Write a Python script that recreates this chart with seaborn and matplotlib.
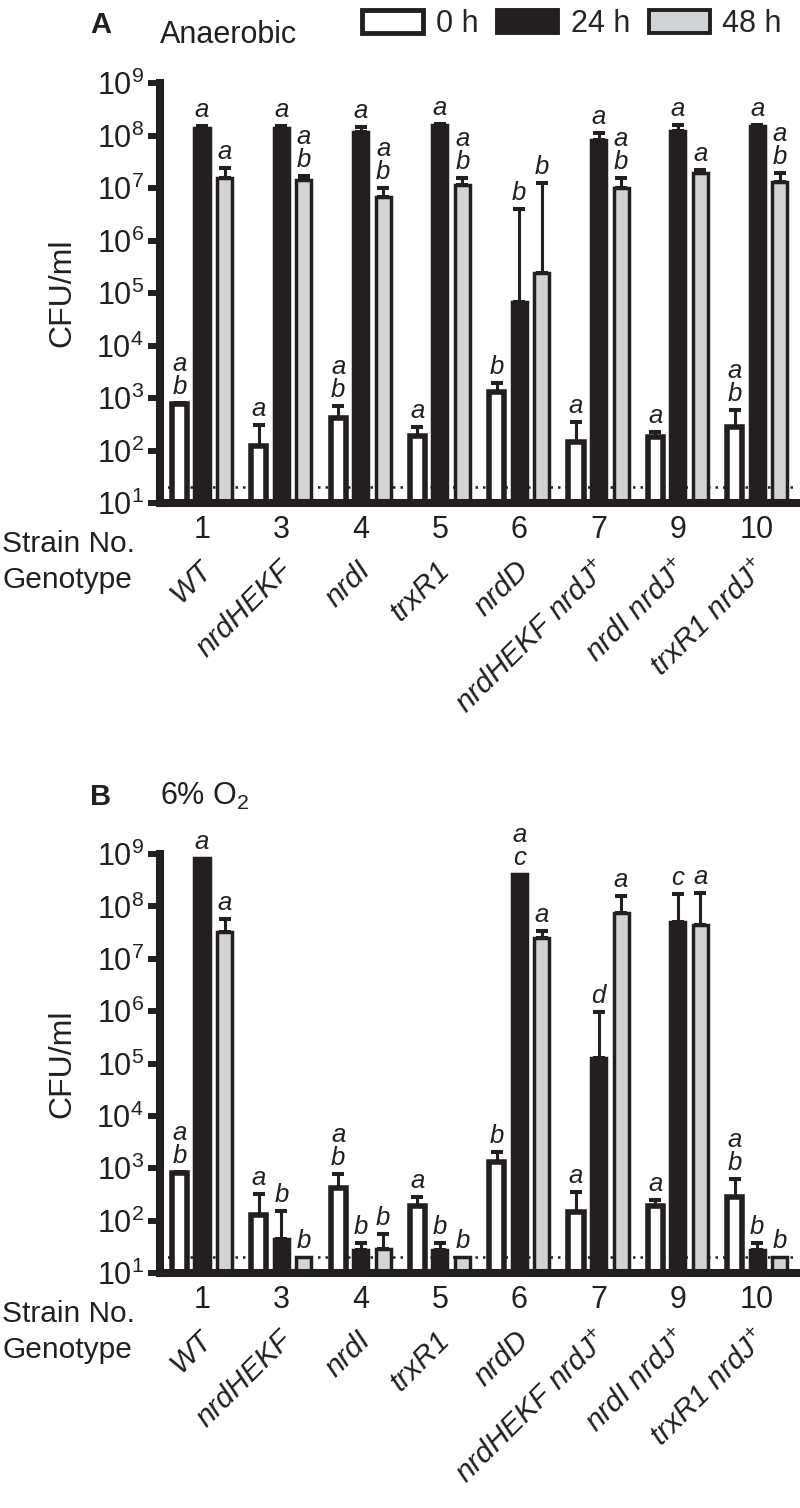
import pandas as pd
import seaborn as sns
import matplotlib.pyplot as plt
from matplotlib.patches import Patch
from matplotlib.ticker import LogLocator, LogFormatterMathtext, NullLocator

strains = ['1', '3', '4', '5', '6', '7', '9', '10']
genotypes = ['WT', 'nrdHEKF', 'nrdI', 'trxR1', 'nrdD',
             'nrdHEKF nrdJ$^{+}$', 'nrdI nrdJ$^{+}$', 'trxR1 nrdJ$^{+}$']
times = ['0 h', '24 h', '48 h']

# panel A, anaerobic (mean and top of error bar)
a_0h = [770, 122, 420, 190, 1290, 146, 180, 280]
a_0h_up = [800, 306, 700, 280, 1940, 350, 225, 590]
a_24h = [1.4e8, 1.4e8, 1.17e8, 1.58e8, 6.8e4, 8.1e7, 1.22e8, 1.5e8]
a_24h_up = [1.5e8, 1.5e8, 1.45e8, 1.65e8, 4.0e6, 1.12e8, 1.58e8, 1.58e8]
a_48h = [1.55e7, 1.4e7, 6.8e6, 1.15e7, 2.4e5, 1.0e7, 1.94e7, 1.3e7]
a_48h_up = [2.4e7, 1.7e7, 1.0e7, 1.55e7, 1.26e7, 1.55e7, 2.2e7, 1.94e7]

# panel B, 6% O2
b_0h = [810, 128, 420, 190, 1320, 146, 190, 280]
b_0h_up = [840, 323, 770, 280, 2040, 355, 245, 620]
b_24h = [8.3e8, 45, 27.5, 27, 4.1e8, 1.3e5, 5.0e7, 27]
b_24h_up = [8.3e8, 150, 37, 37, 4.1e8, 9.5e5, 1.7e8, 37]
b_48h = [3.2e7, 20, 29, 20, 2.45e7, 7.4e7, 4.4e7, 20]
b_48h_up = [5.7e7, 20, 55, 20, 3.4e7, 1.58e8, 1.8e8, 20]

# significance letters
a_let_0h = ['a\nb', 'a', 'a\nb', 'a', 'b', 'a', 'a', 'a\nb']
a_let_24h = ['a', 'a', 'a', 'a', 'b', 'a', 'a', 'a']
a_let_48h = ['a', 'a\nb', 'a\nb', 'a\nb', 'b', 'a\nb', 'a', 'a\nb']
b_let_0h = ['a\nb', 'a', 'a\nb', 'a', 'b', 'a', 'a', 'a\nb']
b_let_24h = ['a', 'b', 'b', 'b', 'a\nc', 'd', 'c', 'b']
b_let_48h = ['a', 'b', 'b', 'b', 'a', 'a', 'a', 'b']

detection_limit = 20

INK = '#231f20'
palette = {'0 h': 'white', '24 h': INK, '48 h': '#d1d3d4'}

sns.set_style('ticks')
plt.rcParams['font.family'] = ['Liberation Sans', 'DejaVu Sans']
plt.rcParams['mathtext.fontset'] = 'custom'
plt.rcParams['mathtext.rm'] = 'Liberation Sans'
plt.rcParams['mathtext.it'] = 'Liberation Sans:italic'


def make_df(v0, v24, v48):
    rows = []
    for vals, t in zip([v0, v24, v48], times):
        for s, v in zip(strains, vals):
            rows.append({'strain': s, 'time': t, 'cfu': v})
    return pd.DataFrame(rows)


def draw_panel(ax, means, ups, letters):
    df = make_df(*means)
    sns.barplot(data=df, x='strain', y='cfu', hue='time', order=strains,
                hue_order=times, palette=palette, edgecolor=INK, linewidth=2.5,
                width=0.852, gap=0.33, errorbar=None, legend=False, ax=ax)
    ax.set_yscale('log')

    bars = sorted(ax.patches, key=lambda p: p.get_x())
    for k, p in enumerate(bars):
        g, h = k // 3, k % 3
        p.set_zorder(2)
        if h == 0:
            p.set_linewidth(4.0)
        x = p.get_x() + p.get_width() / 2
        top = means[h][g]
        up = ups[h][g]
        if up > top:
            ax.errorbar(x, top, yerr=[[0], [up - top]], fmt='none', ecolor=INK,
                        elinewidth=2.2, capsize=4.3, capthick=2.9, zorder=3)
        ax.annotate(letters[h][g], xy=(x, max(top, up)), xytext=(0, 3),
                    textcoords='offset points', ha='center', va='bottom',
                    fontsize=18.5, style='italic', linespacing=0.95, color=INK)

    ax.axhline(detection_limit, ls=(0, (1, 2)), color=INK, lw=1.8, zorder=1)

    ax.set_ylim(10, 1e9)
    ax.set_xlim(-0.53, 7.5)
    ax.yaxis.set_major_locator(LogLocator(base=10, numticks=20))
    ax.yaxis.set_major_formatter(LogFormatterMathtext())
    ax.yaxis.set_minor_locator(NullLocator())
    ax.tick_params(axis='y', labelsize=22, length=8.6, width=4.3, pad=3,
                   color=INK, labelcolor=INK)
    ax.tick_params(axis='x', labelsize=22, length=0, pad=9, labelcolor=INK)
    for side in ['top', 'right']:
        ax.spines[side].set_visible(False)
    for side in ['left', 'bottom']:
        ax.spines[side].set_linewidth(5.8)
        ax.spines[side].set_color(INK)
        ax.spines[side].set_zorder(4)
    ax.set_xlabel('')
    ax.set_ylabel('CFU/ml', fontsize=23, color=INK)
    ax.yaxis.set_label_coords(-0.13, 0.5)

    for i, gname in enumerate(genotypes):
        ax.annotate(gname, xy=(i, 0), xycoords=('data', 'axes fraction'),
                    xytext=(4.3, -45), textcoords='offset points',
                    rotation=45, rotation_mode='anchor', ha='right', va='center',
                    fontsize=21.5, style='italic', color=INK)


fig = plt.figure(figsize=(8, 15.08), dpi=100)
H = 1508
axA = fig.add_axes([0.2, 1 - 503 / H, 0.796, 420 / H])
axB = fig.add_axes([0.2, 1 - 1273 / H, 0.796, 419 / H])

draw_panel(axA, [a_0h, a_24h, a_48h], [a_0h_up, a_24h_up, a_48h_up],
           [a_let_0h, a_let_24h, a_let_48h])
draw_panel(axB, [b_0h, b_24h, b_48h], [b_0h_up, b_24h_up, b_48h_up],
           [b_let_0h, b_let_24h, b_let_48h])

for y_axis in [503, 1273]:
    fig.text(2 / 800, 1 - (y_axis + 49) / H, 'Strain No.', fontsize=21.5,
             va='baseline', ha='left', color=INK)
    fig.text(2 / 800, 1 - (y_axis + 85) / H, 'Genotype', fontsize=21.5,
             va='baseline', ha='left', color=INK)

fig.text(90 / 800, 1 - 33 / H, 'A', fontsize=21, fontweight='bold',
         va='baseline', color=INK)
fig.text(160 / 800, 1 - 43 / H, 'Anaerobic', fontsize=22, va='baseline', color=INK)
fig.text(90 / 800, 1 - 805 / H, 'B', fontsize=21, fontweight='bold',
         va='baseline', color=INK)
fig.text(160 / 800, 1 - 805 / H, '6% O$_2$', fontsize=22, va='baseline', color=INK)

handles = [Patch(facecolor=palette[t], edgecolor=INK,
                 linewidth=3.5 if t == '0 h' else 2.8, label=t) for t in times]
fig.legend(handles=handles, loc='center left', ncol=3, frameon=False,
           bbox_to_anchor=(362 / 800, 1 - 24 / H), fontsize=22,
           handlelength=2.0, handleheight=0.75, handletextpad=0.42,
           columnspacing=0.6, borderpad=0, borderaxespad=0)

plt.savefig('out.png', dpi=100)
